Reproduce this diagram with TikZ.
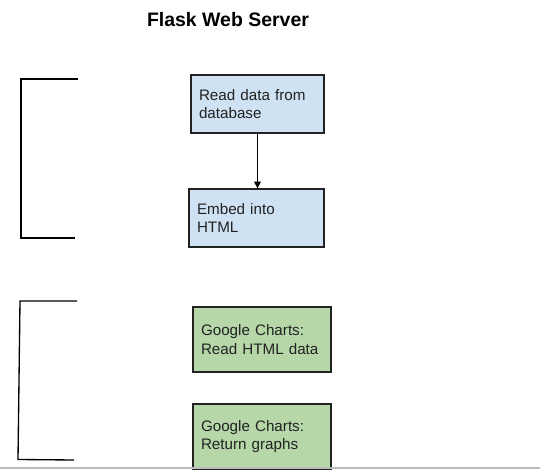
\documentclass[tikz,border=0pt]{standalone}
\usepackage{fontspec}
\setmainfont{Liberation Sans}
\usetikzlibrary{arrows.meta}

\tikzset{every picture/.style={line width=0.75pt}}
\tikzset{
  stagebox/.style={draw={rgb, 255:red, 34; green, 34; blue, 34}, line width=1pt, align=left, anchor=center,
    inner sep=6pt, font=\fontsize{11.4}{13.7}\selectfont, text={rgb, 255:red, 34; green, 34; blue, 34}},
  flaskbox/.style={stagebox, fill={rgb, 255:red, 207; green, 226; blue, 243}},
  chartbox/.style={stagebox, fill={rgb, 255:red, 182; green, 215; blue, 168}},
}

\begin{document}
\begin{tikzpicture}[x=0.75pt,y=0.75pt,yscale=-1,xscale=1]
\useasboundingbox (0,0) rectangle (540,471);
\clip (0,0) rectangle (540,471);

% Text Node
\draw (228,20) node [font=\fontsize{14.6}{17}\selectfont\bfseries] (title) {Flask Web Server};

%Shape: Rectangle [id:flask1]
\node [flaskbox, minimum width=99.75pt, minimum height=43.5pt, text width=87.75pt] (readdb) at (257.5,104) {Read data from\\database};
%Shape: Rectangle [id:flask2]
\node [flaskbox, minimum width=101.25pt, minimum height=43.5pt, text width=89.25pt] (embed) at (256.5,218) {Embed into\\HTML};
%Shape: Rectangle [id:chart1]
\node [chartbox, minimum width=103.5pt, minimum height=48.75pt, text width=91.5pt] (readhtml) at (262,339.5) {Google Charts:\\Read HTML data};
%Shape: Rectangle [id:chart2]
\node [chartbox, minimum width=103.5pt, minimum height=48.75pt, text width=91.5pt] (graphs) at (262,436.5) {Google Charts:\\Return graphs};

%Straight Lines [id:arrow1]
\draw [-{Triangle[length=5pt,width=5pt]}, line width=1pt] (readdb.south) -- (readdb.south |- embed.north);

%Shape: Bracket [id:bracket1]
\draw [line width=1pt] (78,79) -- (21,79) -- (21,238) -- (75,238);
%Shape: Bracket [id:bracket2]
\draw [line width=1pt] (77,301) -- (20,301) -- (18,459.5) -- (74,460);

%Straight Lines [id:edge]
\draw [color={rgb, 255:red, 187; green, 187; blue, 187}, line width=1pt] (0,468) -- (540,468);
\end{tikzpicture}
\end{document}
